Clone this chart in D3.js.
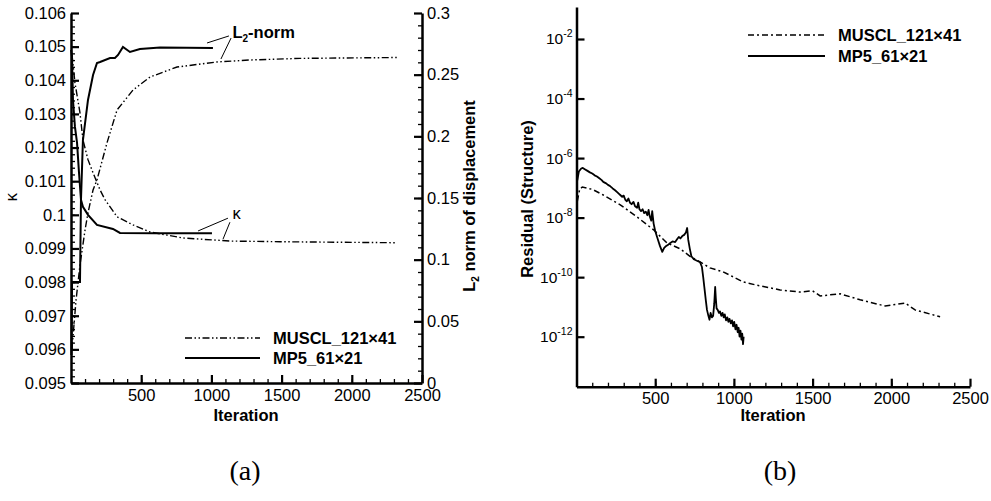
<!DOCTYPE html>
<html><head><meta charset="utf-8">
<script src="https://cdn.jsdelivr.net/npm/d3@7"></script>
<style>
body{margin:0;background:#fff}
text{font-family:"Liberation Sans",Arial,Helvetica,sans-serif;fill:#000}
</style>
</head><body>
<svg id="c" width="991" height="501"></svg>
<script>
// ---------- DATA: panel (a) ----------
const musclKappaIter = [7, 28, 64, 85, 121, 157, 207, 242, 328, 442, 563, 798, 1132, 1489, 2322];
const musclKappa     = [0.10476, 0.10393, 0.10303, 0.10223, 0.10164, 0.10125, 0.10074, 0.10045, 0.09994, 0.0997, 0.09949, 0.09931, 0.09922, 0.0992, 0.09917];
const musclL2Iter    = [7, 36, 64, 100, 121, 157, 185, 256, 328, 442, 563, 755, 1040, 1275, 1631, 2322];
const musclL2        = [0.0276, 0.0673, 0.0957, 0.124, 0.138, 0.1565, 0.1646, 0.1946, 0.2214, 0.2376, 0.2481, 0.2562, 0.2603, 0.2619, 0.2632, 0.2639];
const mp5KappaIter   = [1, 7, 14, 28, 43, 57, 71, 85, 121, 185, 299, 349, 600, 1004];
const mp5Kappa       = [0.1049, 0.1047, 0.10342, 0.10262, 0.10214, 0.10125, 0.10045, 0.10024, 0.1000, 0.0997, 0.09958, 0.09946, 0.09945, 0.09945];
const mp5L2Iter      = [3, 7, 64, 71, 85, 121, 157, 185, 207, 278, 313, 335, 370, 420, 491, 634, 1011];
const mp5L2          = [0.0227, 0.0819, 0.0819, 0.1484, 0.197, 0.2295, 0.2497, 0.2595, 0.2603, 0.2635, 0.2635, 0.266, 0.2724, 0.2684, 0.2708, 0.272, 0.2716];
const kappaTicks = ["0.095","0.096","0.097","0.098","0.099","0.1","0.101","0.102","0.103","0.104","0.105","0.106"];
const l2Ticks    = ["0","0.05","0.1","0.15","0.2","0.25","0.3"];
const iterTicks  = [500, 1000, 1500, 2000, 2500];
const seriesNames = ["MUSCL_121\u00d741", "MP5_61\u00d721"];

// ---------- DATA: panel (b) ----------
const musclResIter = [5, 20, 37, 100, 170, 278, 385, 490, 575, 659, 721, 785, 848, 931, 995, 1058, 1146, 1294, 1421, 1500, 1548, 1675, 1802, 1961, 2024, 2088, 2151, 2310];
const musclResLog  = [-7.45, -7.05, -6.97, -7.05, -7.24, -7.57, -7.98, -8.41, -8.85, -9.05, -9.3, -9.49, -9.69, -9.82, -9.99, -10.16, -10.27, -10.43, -10.5, -10.46, -10.63, -10.56, -10.76, -10.97, -10.92, -10.87, -11.1, -11.33];
const mp5ResIter = [5, 15, 30, 40, 55, 70, 85, 100, 115, 130, 145, 160, 170, 185, 200, 215, 230, 245, 260, 270, 278, 290, 300, 310, 320, 330, 340, 350, 362, 372, 385, 392, 400, 410, 420, 430, 440, 450, 458, 465, 475, 481, 490, 500, 515, 530, 545, 557, 570, 585, 596, 610, 627, 640, 650, 660, 672, 684, 695, 703, 710, 720, 730, 745, 765, 785, 797, 805, 812, 822, 829, 838, 845, 852, 860, 868, 875, 881, 885, 890, 897, 905, 912, 920, 928, 935, 942, 950, 958, 965, 972, 980, 988, 995, 1002, 1010, 1017, 1024, 1030, 1036, 1042, 1048, 1053, 1058, 1062];
const mp5ResLog  = [-6.75, -6.45, -6.35, -6.33, -6.38, -6.43, -6.48, -6.52, -6.58, -6.62, -6.68, -6.74, -6.8, -6.84, -6.9, -6.95, -7.02, -7.08, -7.15, -7.2, -7.24, -7.3, -7.26, -7.4, -7.45, -7.36, -7.5, -7.55, -7.47, -7.62, -7.67, -7.5, -7.72, -7.78, -7.72, -7.85, -7.8, -7.92, -7.74, -7.95, -8.1, -7.78, -8.2, -8.45, -8.7, -8.95, -9.15, -9.02, -8.95, -8.9, -8.85, -8.8, -8.82, -8.72, -8.65, -8.7, -8.62, -8.58, -8.5, -8.35, -8.75, -9.05, -9.3, -9.4, -9.45, -9.5, -9.66, -10.0, -10.33, -10.8, -11.1, -11.3, -11.43, -11.2, -11.35, -11.3, -10.9, -10.33, -10.7, -11.05, -11.1, -11.2, -11.15, -11.3, -11.2, -11.35, -11.25, -11.45, -11.35, -11.5, -11.4, -11.55, -11.45, -11.65, -11.5, -11.75, -11.6, -11.85, -11.7, -12.0, -11.8, -12.1, -11.9, -12.25, -12.0];
const resTicks = [-2, -4, -6, -8, -10, -12];

// ---------- helpers ----------
const svg = d3.select("#c");
const FS = 16.5;
const DASH_A = "7,2.5,1.5,2.5,1.5,2.5";
const DASH_B = "6,3,2,3";
const zip = (a, b) => a.map((v, i) => [v, b[i]]);
const fmtInt = d3.format("d");

function styleAxis(g, major) {
  g.select(".domain").attr("stroke", "#000").attr("stroke-width", 2.5);
  g.selectAll(".tick line").attr("stroke", "#000").attr("stroke-width", major ? 2.2 : 1.3);
  g.selectAll("text").attr("font-size", FS).attr("font-family", '"Liberation Sans",Arial,sans-serif');
}
function range(a, b, s) { const r = []; for (let v = a; v <= b + 1e-9; v += s) r.push(+v.toFixed(6)); return r; }

// ================= Panel (a) =================
const xA = d3.scaleLinear([0, 2500], [71, 422]);
const yK = d3.scaleLinear([0.095, 0.106], [383, 13]);
const yN = d3.scaleLinear([0, 0.3], [383, 13]);

const gA = svg.append("g");
gA.append("g").attr("transform", "translate(0,383)")
  .call(d3.axisBottom(xA).tickValues(range(100, 2400, 100)).tickSize(-4).tickSizeOuter(0).tickFormat(""))
  .call(g => { styleAxis(g, false); g.select(".domain").remove(); });
gA.append("g").attr("transform", "translate(71,0)")
  .call(d3.axisLeft(yK).tickValues(range(0.0952, 0.1058, 0.0002)).tickSize(-4).tickSizeOuter(0).tickFormat(""))
  .call(g => { styleAxis(g, false); g.select(".domain").remove(); });
gA.append("g").attr("transform", "translate(422,0)")
  .call(d3.axisRight(yN).tickValues(range(0.01, 0.29, 0.01)).tickSize(-4).tickSizeOuter(0).tickFormat(""))
  .call(g => { styleAxis(g, false); g.select(".domain").remove(); });
gA.append("g").attr("transform", "translate(0,383)")
  .call(d3.axisBottom(xA).tickValues(iterTicks).tickFormat(fmtInt).tickSize(-8).tickSizeOuter(0).tickPadding(6))
  .call(g => styleAxis(g, true));
gA.append("g").attr("transform", "translate(71,0)")
  .call(d3.axisLeft(yK).tickValues(kappaTicks.map(Number)).tickFormat((d, i) => kappaTicks[i]).tickSize(-8).tickSizeOuter(0).tickPadding(5))
  .call(g => styleAxis(g, true));
gA.append("g").attr("transform", "translate(422,0)")
  .call(d3.axisRight(yN).tickValues(l2Ticks.map(Number)).tickFormat((d, i) => l2Ticks[i]).tickSize(-8).tickSizeOuter(0).tickPadding(5))
  .call(g => styleAxis(g, true));

const lineK = d3.line().x(d => xA(d[0])).y(d => yK(d[1]));
const lineN = d3.line().x(d => xA(d[0])).y(d => yN(d[1]));
gA.append("path").attr("d", lineK(zip(musclKappaIter, musclKappa))).attr("fill", "none").attr("stroke", "#000").attr("stroke-width", 1.4).attr("stroke-dasharray", DASH_A);
gA.append("path").attr("d", lineN(zip(musclL2Iter, musclL2))).attr("fill", "none").attr("stroke", "#000").attr("stroke-width", 1.4).attr("stroke-dasharray", DASH_A);
gA.append("path").attr("d", lineK(zip(mp5KappaIter, mp5Kappa))).attr("fill", "none").attr("stroke", "#000").attr("stroke-width", 2);
gA.append("path").attr("d", lineN(zip(mp5L2Iter, mp5L2))).attr("fill", "none").attr("stroke", "#000").attr("stroke-width", 2);

// annotations (in data units)
const annL2 = { text: [1150, 0.2797], leaders: [[[969, 0.2757], [1125, 0.2814]], [[1068, 0.2627], [1140, 0.2797]]] };
const annK  = { text: [1150, 0.09989], leaders: [[[905, 0.09952], [1118, 0.0999]], [[1083, 0.09928], [1132, 0.09978]]] };
annL2.leaders.forEach(s => gA.append("line").attr("x1", xA(s[0][0])).attr("y1", yN(s[0][1])).attr("x2", xA(s[1][0])).attr("y2", yN(s[1][1])).attr("stroke", "#000").attr("stroke-width", 1));
annK.leaders.forEach(s => gA.append("line").attr("x1", xA(s[0][0])).attr("y1", yK(s[0][1])).attr("x2", xA(s[1][0])).attr("y2", yK(s[1][1])).attr("stroke", "#000").attr("stroke-width", 1));
const tL2 = gA.append("text").attr("x", xA(annL2.text[0])).attr("y", yN(annL2.text[1])).attr("font-size", FS).attr("font-weight", "bold");
tL2.append("tspan").text("L");
tL2.append("tspan").attr("font-size", 10).attr("dy", 4).text("2");
tL2.append("tspan").attr("dy", -4).text("-norm");
gA.append("text").attr("x", xA(annK.text[0])).attr("y", yK(annK.text[1])).attr("font-size", FS).text("\u03ba");

gA.append("text").attr("x", 246).attr("y", 421).attr("text-anchor", "middle").attr("font-size", FS).attr("font-weight", "bold").text("Iteration");
gA.append("text").attr("transform", "translate(17,197) rotate(-90)").attr("text-anchor", "middle").attr("font-size", FS).text("\u03ba");
const tR = gA.append("text").attr("transform", "translate(475,196) rotate(-90)").attr("text-anchor", "middle").attr("font-size", FS).attr("font-weight", "bold");
tR.append("tspan").text("L");
tR.append("tspan").attr("font-size", 10).attr("dy", 4).text("2");
tR.append("tspan").attr("dy", -4).text(" norm of displacement");

[[DASH_A, 1.4, 338], [null, 2, 358]].forEach((s, i) => {
  const l = gA.append("line").attr("x1", 185).attr("x2", 260).attr("y1", s[2]).attr("y2", s[2]).attr("stroke", "#000").attr("stroke-width", s[1]);
  if (s[0]) l.attr("stroke-dasharray", s[0]);
  gA.append("text").attr("x", 273).attr("y", s[2] + 6).attr("font-size", FS).attr("font-weight", "bold").text(seriesNames[i]);
});

// ================= Panel (b) =================
const xB = d3.scaleLinear([0, 2500], [576.5, 970]);
const yB = d3.scaleLog([Math.pow(10, -13.68), Math.pow(10, -0.925)], [386.7, 7]);
const gB = svg.append("g");
gB.append("g").attr("transform", "translate(0,386.7)")
  .call(d3.axisBottom(xB).tickValues(range(100, 2400, 100)).tickSize(-4).tickSizeOuter(0).tickFormat(""))
  .call(g => { styleAxis(g, false); g.select(".domain").remove(); });
gB.append("g").attr("transform", "translate(0,386.7)")
  .call(d3.axisBottom(xB).tickValues(iterTicks).tickFormat(fmtInt).tickSize(-8).tickSizeOuter(0).tickPadding(6))
  .call(g => styleAxis(g, true));
gB.append("g").attr("transform", "translate(576.5,0)")
  .call(d3.axisLeft(yB).tickValues(resTicks.map(e => Math.pow(10, e))).tickSize(-8).tickSizeOuter(0).tickPadding(4).tickFormat(""))
  .call(g => {
    styleAxis(g, true);
    g.selectAll(".tick").each(function (d, i) {
      const t = d3.select(this).select("text").attr("x", -4).attr("dy", "0.32em").attr("font-size", 15.5);
      t.text(null);
      t.append("tspan").text("10");
      t.append("tspan").attr("font-size", 10.5).attr("dy", -7).text(resTicks[i]);
    });
  });
const lineB = d3.line().x(d => xB(d[0])).y(d => yB(Math.pow(10, d[1])));
gB.append("path").attr("d", lineB(zip(musclResIter, musclResLog))).attr("fill", "none").attr("stroke", "#000").attr("stroke-width", 1.5).attr("stroke-dasharray", DASH_B);
gB.append("path").attr("d", lineB(zip(mp5ResIter, mp5ResLog))).attr("fill", "none").attr("stroke", "#000").attr("stroke-width", 1.8).attr("stroke-linejoin", "round");

gB.append("text").attr("x", 773).attr("y", 421).attr("text-anchor", "middle").attr("font-size", FS).attr("font-weight", "bold").text("Iteration");
gB.append("text").attr("transform", "translate(533,199) rotate(-90)").attr("text-anchor", "middle").attr("font-size", FS).attr("font-weight", "bold").text("Residual (Structure)");

[[DASH_B, 1.5, 35], [null, 2, 56]].forEach((s, i) => {
  const l = gB.append("line").attr("x1", 748).attr("x2", 825).attr("y1", s[2]).attr("y2", s[2]).attr("stroke", "#000").attr("stroke-width", s[1]);
  if (s[0]) l.attr("stroke-dasharray", s[0]);
  gB.append("text").attr("x", 838).attr("y", s[2] + 6).attr("font-size", FS).attr("font-weight", "bold").text(seriesNames[i]);
});

// captions
svg.append("text").attr("x", 245).attr("y", 480).attr("text-anchor", "middle").attr("font-size", 28).style("font-family", '"Liberation Serif","DejaVu Serif",serif').text("(a)");
svg.append("text").attr("x", 780).attr("y", 480).attr("text-anchor", "middle").attr("font-size", 28).style("font-family", '"Liberation Serif","DejaVu Serif",serif').text("(b)");
</script>
</body></html>
